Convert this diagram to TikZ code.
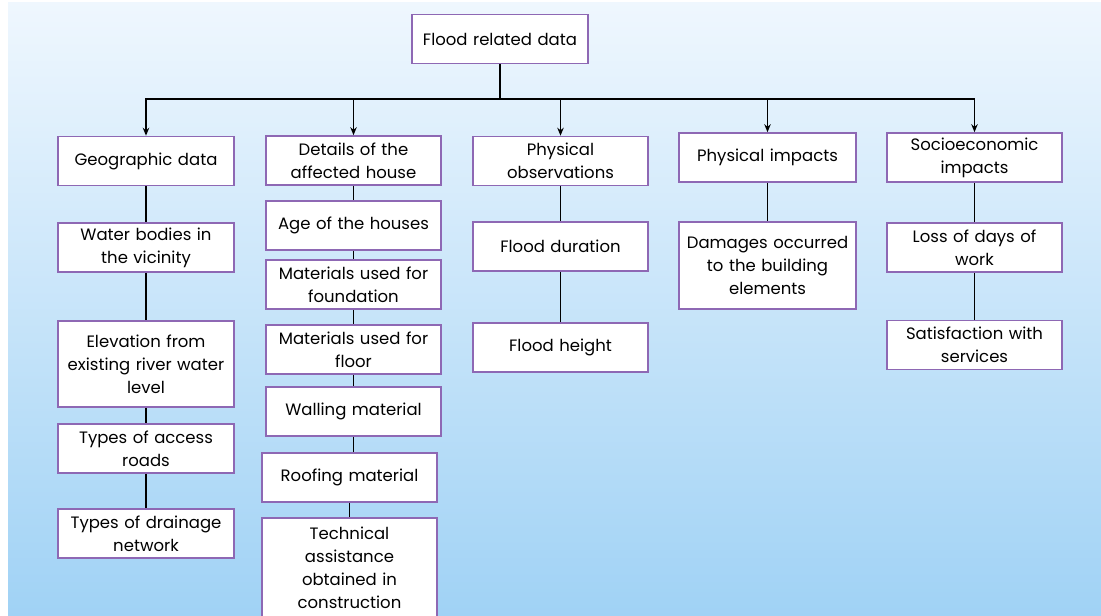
\documentclass[tikz,border=0pt]{standalone}
\usepackage{fontspec}
\setmainfont{Poppins}
\usetikzlibrary{arrows.meta}
\definecolor{boxline}{RGB}{142,104,180}
\definecolor{skytop}{RGB}{239,247,254}
\definecolor{skybot}{RGB}{160,210,245}
\tikzset{
    box/.style={draw=boxline, line width=1.6pt, fill=white, align=center,
        text width=170pt, minimum width=176pt, minimum height=49pt,
        inner sep=2pt, font=\fontsize{16.5}{23}\selectfont},
    link/.style={line width=1.4pt, black}
}
\begin{document}
\begin{tikzpicture}[x=1pt, y=-1pt, >={Stealth[length=8pt,width=6.5pt]}]
            \useasboundingbox (0,0) rectangle (1101,616);
            \shade[top color=skytop, bottom color=skybot] (8,2) rectangle (1101,616);
            % Root
            \node[box] (root) at (500,39) {Flood related data};
            % Column 1
            \node[box] (geo) at (146,161) {Geographic data};
            \node[box] (water) at (146,247.5) {Water bodies in\\the vicinity};
            \node[box, minimum height=86pt] (elev) at (146,364) {Elevation from\\existing river water\\level};
            \node[box] (access) at (146,448.5) {Types of access\\roads};
            \node[box] (drain) at (146,533.5) {Types of drainage\\network};
            % Column 2
            \node[box, minimum width=175pt] (house) at (353.5,160.5) {Details of the\\affected house};
            \node[box, minimum width=175pt] (age) at (353.5,225.5) {Age of the houses};
            \node[box, minimum width=175pt] (found) at (353.5,284.5) {Materials used for\\foundation};
            \node[box, minimum width=175pt] (floor) at (353.5,349.5) {Materials used for\\floor};
            \node[box, minimum width=175pt] (wall) at (353.5,411.5) {Walling material};
            \node[box, minimum width=175pt] (roof) at (349.5,477.5) {Roofing material};
            \node[box, minimum width=175pt, minimum height=100pt] (tech) at (349.5,568) {Technical\\assistance\\obtained in\\construction};
            % Column 3
            \node[box, minimum width=175pt] (obs) at (560.5,161) {Physical\\observations};
            \node[box, minimum width=175pt] (dur) at (560.5,246.5) {Flood duration};
            \node[box, minimum width=175pt] (height) at (560.5,347.5) {Flood height};
            % Column 4
            \node[box, minimum width=177pt] (imp) at (767.5,157.5) {Physical impacts};
            \node[box, minimum width=177pt, minimum height=87pt] (dmg) at (767.5,265.5) {Damages occurred\\to the building\\elements};
            % Column 5
            \node[box, minimum width=175pt] (socio) at (974.5,157.5) {Socioeconomic\\impacts};
            \node[box, minimum width=175pt] (loss) at (974.5,247.5) {Loss of days of\\work};
            \node[box, minimum width=175pt] (satis) at (974.5,345) {Satisfaction with\\services};
            % Links
            \coordinate (bus) at (500,99);
            \draw[link] (root) -- (bus);
            \foreach \n in {geo, house, obs, imp, socio} {
                    \draw[link, ->] (bus) -| (\n.north);
                }
            \foreach \a/\b in {geo/water, water/elev, elev/access, access/drain,
                    house/age, age/found, found/floor, floor/wall, wall/roof, roof/tech,
                    obs/dur, dur/height, imp/dmg, socio/loss, loss/satis} {
                    \draw[link] (\a.south) -- (\a.south |- \b.north);
                }
        \end{tikzpicture}
\end{document}
